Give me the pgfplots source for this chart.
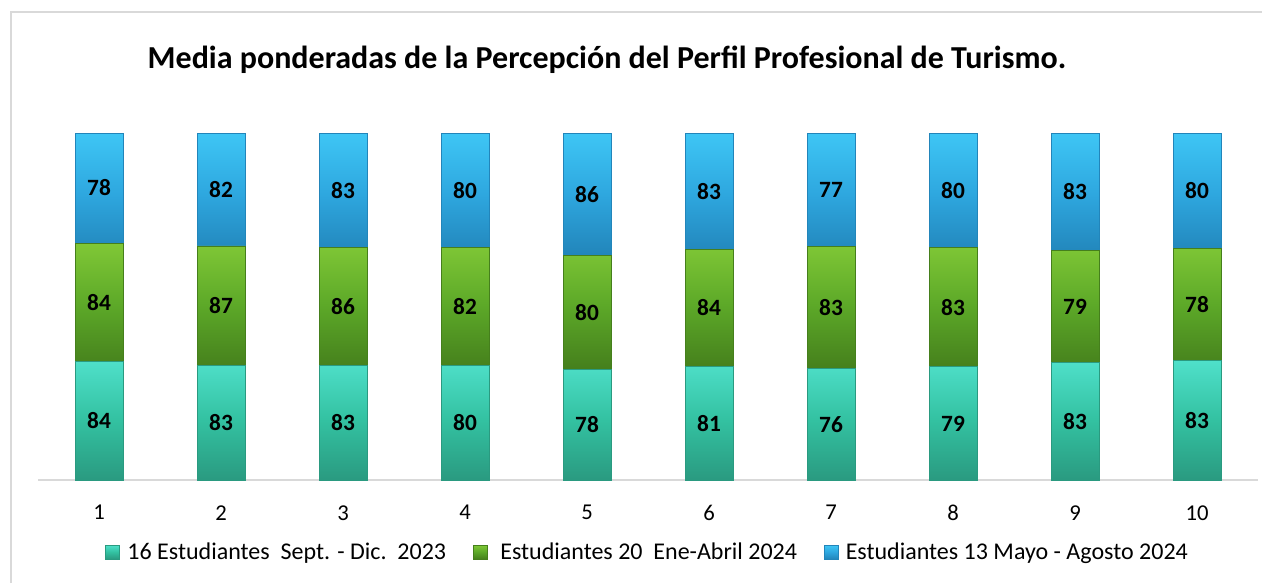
\documentclass[border=0pt]{standalone}
\usepackage{pgfplots}
\pgfplotsset{compat=1.18}
\usepackage{pgfplotstable}
\usepackage{fontspec}
\setmainfont{Carlito}
\definecolor{tealA}{HTML}{33C1A1}
\definecolor{tealT}{HTML}{4FE0CA}
\definecolor{tealD}{HTML}{2A9A80}
\definecolor{greenA}{HTML}{5CA828}
\definecolor{greenT}{HTML}{80C836}
\definecolor{greenD}{HTML}{457F1C}
\definecolor{blueA}{HTML}{2EA7DF}
\definecolor{blueT}{HTML}{3EC6F5}
\definecolor{blueD}{HTML}{2285BA}
\definecolor{axgray}{HTML}{D9D9D9}
\pgfplotstableread{
x a b c
1 84 84 78
2 83 87 82
3 83 86 83
4 80 82 80
5 78 80 86
6 81 84 83
7 76 83 77
8 79 83 80
9 83 79 83
10 83 78 80
}\datatab
\begin{document}
\begin{tikzpicture}
\path[use as bounding box] (0,0) rectangle (946.5pt,-437.25pt);
\draw[axgray, line width=1.2pt] (8.25pt,-437.25pt) -- (8.25pt,-9pt) -- (946.5pt,-9pt);
\node[anchor=base, font=\fontsize{24}{28}\selectfont\bfseries] at (455.25pt,-51pt) {Media ponderadas de la Percepción del Perfil Profesional de Turismo.};
\begin{axis}[
  at={(28.5pt,-360pt)}, anchor=south west,
  scale only axis, width=915pt, height=260.25pt,
  xmin=0.5, xmax=10.5, ymin=0, ymax=100,
  enlargelimits=false, clip=false,
  ybar stacked, bar width=0.393,
  axis y line=none, axis x line*=bottom,
  x axis line style={axgray, line width=1.2pt},
  xtick={1,...,10}, ytick=\empty, major tick length=0pt,
  /pgf/number format/assume math mode=true,
  xticklabel style={font=\fontsize{17}{20}\selectfont, text=black, yshift=-15.5pt},
  legend image code/.code={\draw[#1] (0pt,-5.25pt) rectangle (10.5pt,5.25pt);},
  legend columns=3,
  legend style={at={(0.5,-0.2075)}, anchor=center, draw=none, fill=none,
    font=\fontsize{18}{21}\selectfont,
    /tikz/every odd column/.append style={column sep=3.5pt},
    /tikz/every even column/.append style={column sep=18pt}},
]
\addplot[draw=tealD, line width=0.5pt, top color=tealT, bottom color=tealD, middle color=tealA]
  table[x=x, y expr={\thisrow{a}/(\thisrow{a}+\thisrow{b}+\thisrow{c})*100}] {\datatab};
\addlegendentry{16 Estudiantes\ \ Sept. - Dic.\ \ 2023}
\addplot[draw=greenD, line width=0.5pt, top color=greenT, bottom color=greenD, middle color=greenA]
  table[x=x, y expr={\thisrow{b}/(\thisrow{a}+\thisrow{b}+\thisrow{c})*100}] {\datatab};
\addlegendentry{\ Estudiantes 20\ \ Ene-Abril 2024}
\addplot[draw=blueD, line width=0.5pt, top color=blueT, bottom color=blueD, middle color=blueA]
  table[x=x, y expr={\thisrow{c}/(\thisrow{a}+\thisrow{b}+\thisrow{c})*100}] {\datatab};
\addlegendentry{Estudiantes 13 Mayo - Agosto 2024}
\end{axis}
\begin{axis}[
  at={(28.5pt,-360pt)}, anchor=south west,
  scale only axis, width=915pt, height=260.25pt,
  xmin=0.5, xmax=10.5, ymin=0, ymax=100,
  enlargelimits=false, clip=false, hide axis,
  nodes near coords, point meta=explicit,
  /pgf/number format/assume math mode=true,
  every node near coord/.append style={font=\fontsize{17.5}{20}\selectfont\bfseries, anchor=center, text=black},
]
\addplot[draw=none] table[x=x, y expr={\thisrow{a}/(\thisrow{a}+\thisrow{b}+\thisrow{c})*50}, meta=a] {\datatab};
\addplot[draw=none] table[x=x, y expr={(\thisrow{a}+0.5*\thisrow{b})/(\thisrow{a}+\thisrow{b}+\thisrow{c})*100}, meta=b] {\datatab};
\addplot[draw=none] table[x=x, y expr={(\thisrow{a}+\thisrow{b}+0.5*\thisrow{c})/(\thisrow{a}+\thisrow{b}+\thisrow{c})*100}, meta=c] {\datatab};
\end{axis}
\end{tikzpicture}
\end{document}
